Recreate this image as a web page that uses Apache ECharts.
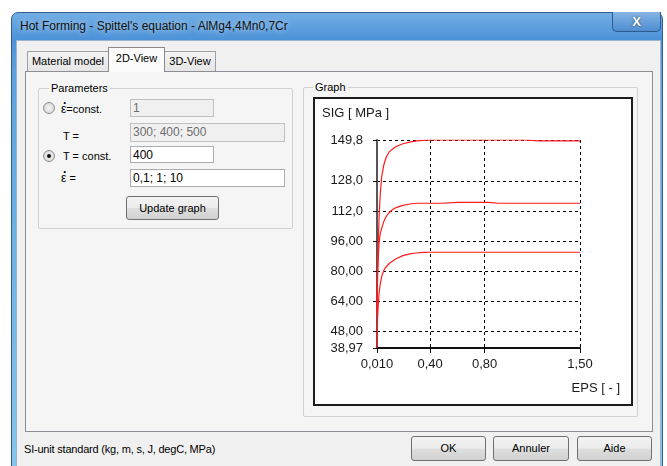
<!DOCTYPE html>
<html>
<head>
<meta charset="utf-8">
<script src="https://cdn.jsdelivr.net/npm/echarts@6/dist/echarts.min.js"></script>
<style>
  html, body { margin:0; padding:0; background:#fff; width:667px; height:466px; overflow:hidden; }
  body { font-family: "Liberation Sans", Arial, sans-serif; font-size:11px; color:#000; position:relative; }
  .abs { position:absolute; }
  #frame { left:11px; top:12px; width:650px; height:470px; border:1px solid #2f5f93; border-radius:7px 7px 0 0;
    background: linear-gradient(to bottom, #72aee4 0px, #4d92d8 26px, #5da2dc 60px, #86c6ec 460px); }
  #title { left:20px; top:19px; font-size:12px; color:#111; text-shadow:0 0 6px rgba(255,255,255,0.7); white-space:nowrap; }
  #close { left:612px; top:12px; width:47px; height:19px; border:1px solid #2b5b8f; border-top:none; border-radius:0 0 5px 5px;
    background: linear-gradient(to bottom, #86b6e6, #4f8ccf); color:#fff; font-weight:bold; font-size:13px; text-align:center; line-height:19px;
    text-shadow:0 0 2px #234; }
  #client { left:16px; top:40px; width:643px; height:430px; background:#f0f0f0; border-top:1px solid #9bb4cf; border-left:1px solid #9bb4cf; border-right:1px solid #9bb4cf; }
  .tab { top:51px; height:19px; border:1px solid #a0a0a0; border-bottom:none; background:linear-gradient(#f3f3f3,#e6e6e6); line-height:19px; text-align:center; white-space:nowrap; }
  .tab.sel { top:47px; height:24px; background:#fbfbfb; line-height:20px; z-index:3; border-color:#8a8a8a; }
  #page { left:25px; top:71px; width:626px; height:359px; border:1px solid #8c8e94; background:#f5f5f5; z-index:2; }
  .group { border:1px solid #d0d0d0; border-radius:2px; }
  .glabel { background:#f5f5f5; padding:0 2px; white-space:nowrap; line-height:12px; }
  .tb { height:17px; border:1px solid #abadb3; background:#fff; line-height:17px; padding-left:2px; box-sizing:border-box; font-size:12px; }
  .tb.dis { background:#f0f0f0; color:#6d6d6d; border-color:#c0c0c0; }
  .radio { width:12px; height:12px; border:1px solid #8e8f8f; border-radius:50%; box-sizing:border-box;
    background: radial-gradient(circle, #f4f4f4 0, #dcdcdc 70%, #f0f0f0 100%); }
  .dot { width:4px; height:4px; border-radius:50%; background:#111; position:absolute; left:3px; top:3px; }
  .lbl { white-space:nowrap; line-height:14px; }
  .edot { position:relative; display:inline-block; font-size:12px; }
  .edot i { position:absolute; left:2px; top:-6px; font-style:normal; font-size:12px; font-weight:bold; }
  .btn { border:1px solid #707070; border-radius:3px; box-sizing:border-box; text-align:center;
    background:linear-gradient(to bottom, #f3f3f3 0%, #ececec 48%, #dedede 52%, #d0d0d0 100%); white-space:nowrap; }
  #chartbox { left:313px; top:97px; width:320px; height:309px; border:2px solid #1c1c1c; box-sizing:border-box; background:#fff; z-index:4; }
  #chart { width:316px; height:305px; }
</style>
</head>
<body>
<div id="frame" class="abs"></div>
<div id="title" class="abs">Hot Forming - Spittel's equation - AlMg4,4Mn0,7Cr</div>
<div id="close" class="abs">X</div>
<div id="client" class="abs"></div>

<div class="abs tab" style="left:27px;width:80px;">Material model</div>
<div class="abs tab sel" style="left:108px;width:55px;">2D-View</div>
<div class="abs tab" style="left:164px;width:50px;">3D-View</div>

<div id="page" class="abs">
</div>

<!-- Parameters group -->
<div class="abs group" style="left:38px;top:88px;width:253px;height:139px;z-index:3;"></div>
<div class="abs glabel" style="left:49px;top:82px;z-index:4;">Parameters</div>

<div class="abs radio" style="left:43px;top:102px;z-index:4;"></div>
<div class="abs lbl" style="left:61px;top:102px;z-index:4;"><span class="edot">ε<i>·</i></span>=const.</div>
<div class="abs tb dis" style="left:130px;top:99px;width:84px;height:18px;z-index:4;">1</div>

<div class="abs lbl" style="left:63px;top:129px;z-index:4;">T =</div>
<div class="abs tb dis" style="left:130px;top:123px;width:155px;height:19px;z-index:4;">300; 400; 500</div>

<div class="abs radio" style="left:43px;top:150px;z-index:4;"><div class="dot"></div></div>
<div class="abs lbl" style="left:63px;top:149px;z-index:4;">T = const.</div>
<div class="abs tb" style="left:130px;top:146px;width:84px;height:17px;z-index:4;">400</div>

<div class="abs lbl" style="left:61px;top:171px;z-index:4;"><span class="edot">ε<i>·</i></span> =</div>
<div class="abs tb" style="left:130px;top:169px;width:155px;height:18px;z-index:4;">0,1; 1; 10</div>

<div class="abs btn" style="left:126px;top:196px;width:93px;height:24px;line-height:22px;z-index:4;">Update graph</div>

<!-- Graph group -->
<div class="abs group" style="left:303px;top:87px;width:333px;height:328px;z-index:3;"></div>
<div class="abs glabel" style="left:313px;top:81px;z-index:4;">Graph</div>

<div id="chartbox" class="abs"><div id="chart"></div></div>

<div class="abs lbl" style="left:24px;top:442px;letter-spacing:-0.2px;">SI-unit standard (kg, m, s, J, degC, MPa)</div>
<div class="abs btn" style="left:411px;top:436px;width:75px;height:25px;line-height:23px;">OK</div>
<div class="abs btn" style="left:493px;top:436px;width:76px;height:25px;line-height:23px;">Annuler</div>
<div class="abs btn" style="left:577px;top:436px;width:75px;height:25px;line-height:23px;">Aide</div>

<script>
// ---- data ----
var strain = [0.01, 0.012, 0.015, 0.02, 0.025, 0.03, 0.035, 0.044, 0.06, 0.07, 0.08, 0.1, 0.12, 0.15, 0.2, 0.25, 0.3, 0.35, 0.4,
              0.49, 0.5, 0.6, 0.7, 0.83, 0.84, 0.9, 1.0, 1.09, 1.1, 1.2, 1.3, 1.4, 1.5];
var sigRate10 = [58, 72, 86, 97, 108, 116, 122, 130, 136.5, 139, 141, 143.5, 144.8, 146.3, 147.8, 148.7, 149.3, 149.6, 149.8,
                 149.8, 149.8, 149.8, 149.8, 149.8, 149.8, 149.8, 149.8, 149.8, 149.3, 149.3, 149.3, 149.3, 149.3];
var sigRate1 = [56, 68, 78, 88, 95, 98, 100.3, 102.6, 106.3, 108, 109.3, 111.2, 112.5, 113.8, 115, 115.7, 116.1, 116.1, 116.1,
                116.1, 116.6, 116.6, 116.6, 116.6, 116.1, 116.1, 116.1, 116.1, 116.1, 116.1, 116.1, 116.1, 116.1];
var sigRate01 = [38.97, 48, 56, 63, 68, 71, 73.5, 77, 80.3, 81.6, 82.5, 84, 85.1, 86.5, 88.2, 89.1, 89.6, 89.9, 90,
                 90, 90, 90, 90, 90, 90, 90, 90, 90, 90, 90, 90, 90, 90];
var yTickValues = [38.97, 48, 64, 80, 96, 112, 128, 149.8];
var yTickLabels = ['38,97', '48,00', '64,00', '80,00', '96,00', '112,0', '128,0', '149,8'];
var xTickValues = [0.01, 0.4, 0.8, 1.5];
var xTickLabels = ['0,010', '0,40', '0,80', '1,50'];
var yTitle = 'SIG [ MPa ]';
var xTitle = 'EPS [ - ]';

function pairs(xs, ys) { return xs.map(function (x, i) { return [x, ys[i]]; }); }
function lookup(vals, labels) {
  return function (v) {
    for (var i = 0; i < vals.length; i++) if (Math.abs(vals[i] - v) < 1e-6) return labels[i];
    return '';
  };
}

var FONT = '"Liberation Sans", Arial, sans-serif';
var chart = echarts.init(document.getElementById('chart'), null, { renderer: 'canvas' });
var lineStyle = { color: '#ff1a1a', width: 1.2 };
chart.setOption({
  animation: false,
  backgroundColor: '#fff',
  grid: { left: 62, top: 41, right: 51, bottom: 56 },
  graphic: [
    { type: 'text', left: 7, top: 8, style: { text: yTitle, font: '13px ' + FONT, fill: '#1a1a1a' } },
    { type: 'text', right: 11, top: 283, style: { text: xTitle, font: '13px ' + FONT, fill: '#1a1a1a' } }
  ],
  xAxis: {
    type: 'value', min: 0.01, max: 1.5,
    axisLine: { show: true, onZero: false, lineStyle: { color: '#111', width: 2 } },
    axisTick: { show: true, length: 5, customValues: xTickValues, lineStyle: { color: '#111' } },
    axisLabel: { customValues: xTickValues, formatter: lookup(xTickValues, xTickLabels), margin: 10,
      fontSize: 13, fontFamily: FONT, color: '#1a1a1a' },
    splitLine: { show: true, lineStyle: { color: '#000', type: [3, 3], width: 1 } }
  },
  yAxis: {
    type: 'value', min: 38.97, max: 149.8,
    axisLine: { show: true, onZero: false, lineStyle: { color: '#555', width: 2 } },
    axisTick: { show: true, length: 4, customValues: yTickValues, lineStyle: { color: '#111' } },
    axisLabel: { customValues: yTickValues, formatter: lookup(yTickValues, yTickLabels), margin: 14,
      fontSize: 13, fontFamily: FONT, color: '#1a1a1a' },
    splitLine: { show: true, lineStyle: { color: '#000', type: [3, 3], width: 1 } }
  },
  series: [
    { type: 'line', data: pairs(strain, sigRate01), showSymbol: false, lineStyle: lineStyle, z: 5 },
    { type: 'line', data: pairs(strain, sigRate1), showSymbol: false, lineStyle: lineStyle, z: 5 },
    { type: 'line', data: pairs(strain, sigRate10), showSymbol: false, lineStyle: lineStyle, z: 5 }
  ]
});
</script>
</body>
</html>
